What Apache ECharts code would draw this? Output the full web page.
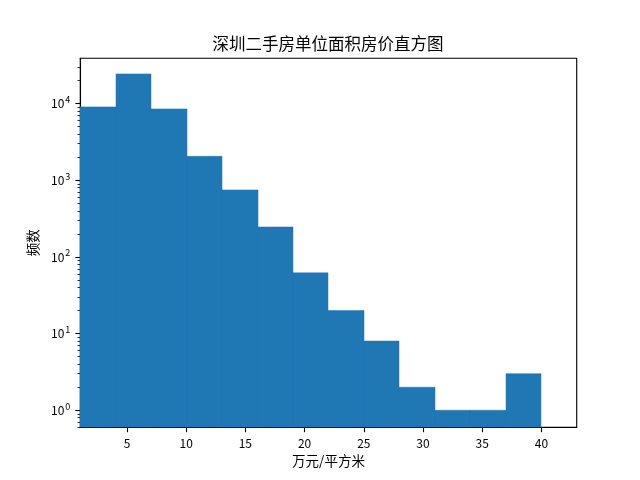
<!DOCTYPE html>
<html>
<head>
<meta charset="utf-8">
<script src="https://cdn.jsdelivr.net/npm/echarts@6/dist/echarts.min.js"></script>
<style>html,body{margin:0;padding:0;background:#fff;}#c{width:640px;height:480px;}</style>
</head>
<body>
<div id="c"></div>
<script>
// Histogram bin edges (万元/平方米)
const binEdges = [1.06, 4.05, 7.05, 10.04, 13.03, 16.03, 19.02, 22.01, 25.01, 28.00, 31.00, 33.99, 36.98, 39.98];
// Frequency per bin
const counts = [9060, 24400, 8530, 2055, 748, 246, 62, 20, 8, 2, 1, 1, 3];
// Tick values
const xTicks = [5, 10, 15, 20, 25, 30, 35, 40];
const yMajorExp = [0, 1, 2, 3, 4];
const yMinorVals = [0.6, 0.7, 0.8, 0.9, 2, 3, 4, 5, 6, 7, 8, 9, 20, 30, 40, 50, 60, 70, 80, 90,
  200, 300, 400, 500, 600, 700, 800, 900, 2000, 3000, 4000, 5000, 6000, 7000, 8000, 9000, 20000, 30000];

const X_MIN = 1.06, X_MAX = 42.98;
const Y_MIN = 0.6, Y_MAX = 39000;
const LY_MIN = Math.log10(Y_MIN), LY_MAX = Math.log10(Y_MAX);

const data = counts.map((c, i) => [binEdges[i], binEdges[i + 1], c]);

const font = '"Noto Sans CJK SC", "Liberation Sans", sans-serif';
const chart = echarts.init(document.getElementById('c'), null, {renderer: 'canvas'});
chart.setOption({
  animation: false,
  backgroundColor: '#fff',
  textStyle: {fontFamily: font, color: '#000'},
  title: {
    text: '深圳二手房单位面积房价直方图',
    left: 328, top: 35.5, padding: 0, textAlign: 'center',
    textStyle: {fontSize: 16.5, fontWeight: 'normal', color: '#000', fontFamily: font}
  },
  grid: {
    left: 80.3, right: 63.3, top: 58.3, bottom: 52.7,
    show: true, borderColor: '#000', borderWidth: 1.1, backgroundColor: 'transparent',
    outerBoundsMode: 'none', containLabel: false
  },
  xAxis: {
    type: 'value', min: X_MIN, max: X_MAX,
    name: '万元/平方米', nameLocation: 'middle', nameGap: 27,
    nameTextStyle: {fontSize: 13.5, color: '#000', fontFamily: font},
    axisLine: {show: true, onZero: false, lineStyle: {color: '#000', width: 1.1}},
    axisTick: {show: true, customValues: xTicks, length: 4.9, lineStyle: {color: '#000', width: 1.1}},
    axisLabel: {customValues: xTicks, margin: 10, fontSize: 12, color: '#000', fontFamily: font},
    splitLine: {show: false}
  },
  yAxis: [{
    type: 'value', min: LY_MIN, max: LY_MAX,
    name: '频数', nameLocation: 'middle', nameGap: 39,
    nameTextStyle: {fontSize: 13.5, color: '#000', fontFamily: font},
    axisLine: {show: true, onZero: false, lineStyle: {color: '#000', width: 1.1}},
    axisTick: {show: true, customValues: yMajorExp, length: 4.9, lineStyle: {color: '#000', width: 1.1}},
    axisLabel: {
      customValues: yMajorExp, margin: 10, color: '#000',
      formatter: v => '{b|10}{s|' + v + '}',
      rich: {
        b: {fontSize: 12, fontFamily: font, color: '#000'},
        s: {fontSize: 9, fontFamily: font, color: '#000', padding: [0, 0, 8, 1]}
      }
    },
    splitLine: {show: false}
  }, {
    type: 'value', min: LY_MIN, max: LY_MAX, position: 'left',
    axisLine: {show: false, onZero: false},
    axisTick: {show: true, customValues: yMinorVals.map(v => Math.log10(v)), length: 2.8, lineStyle: {color: '#000', width: 0.8}},
    axisLabel: {show: false},
    splitLine: {show: false}
  }],
  series: [{
    type: 'custom',
    xAxisIndex: 0, yAxisIndex: 0,
    clip: true,
    encode: {x: [0, 1], y: 2},
    data: data,
    renderItem: function (params, api) {
      const x0 = api.value(0), x1 = api.value(1), c = api.value(2);
      const top = api.coord([x0, Math.log10(c)]);
      const bot = api.coord([x1, LY_MIN]);
      const xl = Math.round(top[0]), xr = Math.round(bot[0]);
      return {
        type: 'rect',
        shape: {x: xl, y: top[1], width: xr - xl, height: bot[1] - top[1]},
        style: {fill: '#1f77b4', stroke: '#1f77b4', lineWidth: 0.5}
      };
    }
  }]
});
</script>
</body>
</html>
